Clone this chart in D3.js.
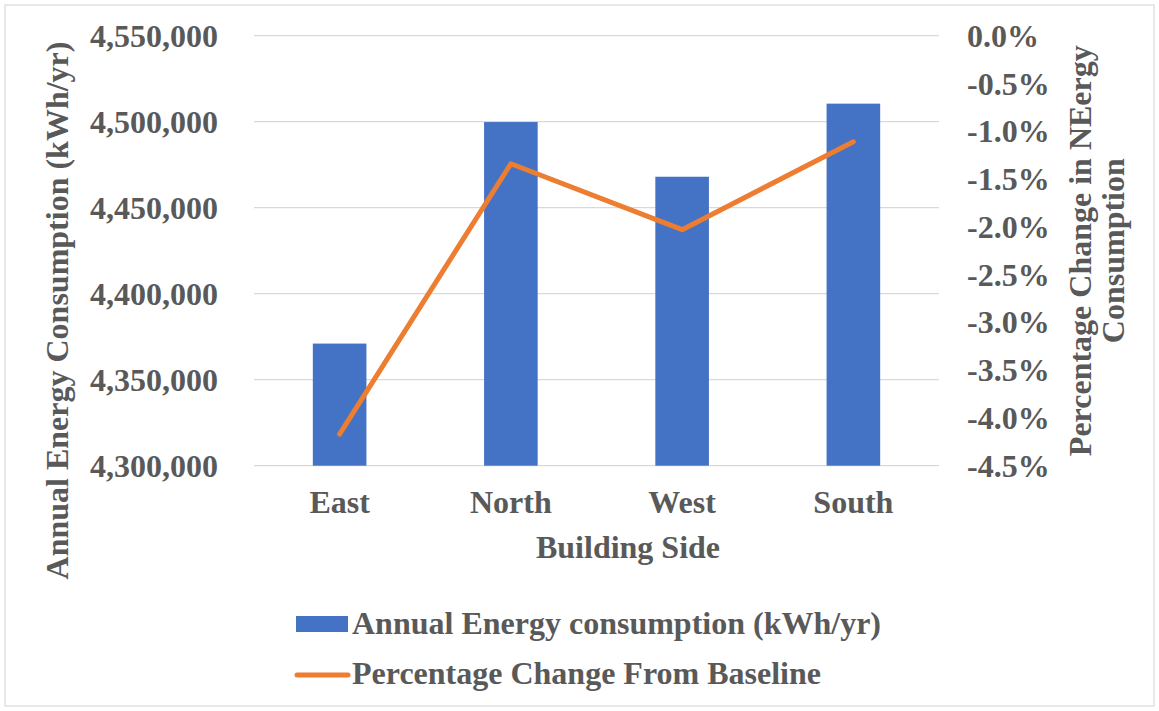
<!DOCTYPE html>
<html>
<head>
<meta charset="utf-8">
<script src="https://cdn.jsdelivr.net/npm/d3@7"></script>
<style>
  html, body { margin: 0; padding: 0; background: #fff; }
  svg text { font-family: "Liberation Serif", "Times New Roman", serif; font-weight: bold; fill: #595959; }
</style>
</head>
<body>
<svg id="chart" width="1159" height="711"></svg>
<script>
// Building side categories
const sides = ["East", "North", "West", "South"];
// Annual energy consumption per side (kWh/yr)
const energy = [4371000, 4499800, 4468000, 4510500];
// Percentage change from baseline per side
const pctChange = [-4.17, -1.34, -2.03, -1.11];
// Axis tick values
const leftTicks = [4300000, 4350000, 4400000, 4450000, 4500000, 4550000];
const rightTicks = [0, -0.5, -1.0, -1.5, -2.0, -2.5, -3.0, -3.5, -4.0, -4.5];

const svg = d3.select("#chart");
const W = 1159, H = 711;
const plot = { left: 254, right: 939, top: 35.7, bottom: 465.7 };
const FS = 32;

const blue = "#4472C4", orange = "#ED7D31", grid = "#D9D9D9";

// Outer chart border
svg.append("rect")
  .attr("x", 5).attr("y", 5).attr("width", W - 10).attr("height", H - 10)
  .attr("fill", "#fff").attr("stroke", grid).attr("stroke-width", 1.2);

const x = d3.scaleBand().domain(sides).range([plot.left, plot.right]).paddingInner(0.687).paddingOuter(0.3435);
const yL = d3.scaleLinear().domain([4300000, 4550000]).range([plot.bottom, plot.top]);
const yR = d3.scaleLinear().domain([-4.5, 0]).range([plot.bottom, plot.top]);

// Gridlines
svg.append("g").selectAll("line").data(leftTicks).join("line")
  .attr("x1", plot.left).attr("x2", plot.right)
  .attr("y1", d => yL(d)).attr("y2", d => yL(d))
  .attr("stroke", grid).attr("stroke-width", 1.3);

// Left axis
const leftAxis = svg.append("g")
  .attr("transform", `translate(${plot.left},0)`)
  .call(d3.axisLeft(yL).tickValues(leftTicks).tickFormat(d3.format(",")).tickSize(0).tickPadding(36));
leftAxis.select(".domain").remove();
leftAxis.selectAll("text").attr("font-size", FS).attr("dy", "0.33em");

// Right axis
const rightAxis = svg.append("g")
  .attr("transform", `translate(${plot.right},0)`)
  .call(d3.axisRight(yR).tickValues(rightTicks).tickSize(0).tickPadding(28));
rightAxis.select(".domain").remove();
rightAxis.selectAll("text").attr("font-size", FS).attr("dy", "0.33em")
  .text(d => (d === 0 ? "0.0" : "-" + d3.format(".1f")(Math.abs(d))) + "%");

// Bars
svg.append("g").selectAll("rect").data(sides).join("rect")
  .attr("x", d => x(d))
  .attr("width", x.bandwidth())
  .attr("y", (d, i) => yL(energy[i]))
  .attr("height", (d, i) => plot.bottom - yL(energy[i]))
  .attr("fill", blue);

// Percentage change line
const line = d3.line()
  .x((d, i) => x(sides[i]) + x.bandwidth() / 2)
  .y(d => yR(d));
svg.append("path").datum(pctChange)
  .attr("d", line)
  .attr("fill", "none").attr("stroke", orange).attr("stroke-width", 5)
  .attr("stroke-linecap", "round").attr("stroke-linejoin", "round");

// Category labels
const xAxis = svg.append("g")
  .attr("transform", `translate(0,${plot.bottom})`)
  .call(d3.axisBottom(x).tickSize(0).tickPadding(25));
xAxis.select(".domain").remove();
xAxis.selectAll("text").attr("font-size", FS);

// Axis titles
svg.append("text").attr("x", 628).attr("y", 558).attr("text-anchor", "middle")
  .attr("font-size", FS).text("Building Side");

svg.append("text")
  .attr("transform", `translate(68,310.5) rotate(-90)`)
  .attr("text-anchor", "middle").attr("font-size", FS)
  .text("Annual Energy Consumption (kWh/yr)");

const rTitle = svg.append("text")
  .attr("transform", `translate(1091,${(plot.top + plot.bottom) / 2}) rotate(-90)`)
  .attr("text-anchor", "middle").attr("font-size", FS);
rTitle.append("tspan").attr("x", 0).attr("dy", 0).text("Percentage Change in NEergy");
rTitle.append("tspan").attr("x", 0).attr("dy", 33).text("Consumption");

// Legend
const legend = svg.append("g");
legend.append("rect").attr("x", 296).attr("y", 616).attr("width", 52).attr("height", 16).attr("fill", blue);
legend.append("text").attr("x", 352).attr("y", 634).attr("font-size", FS).text("Annual Energy consumption (kWh/yr)");
legend.append("line").attr("x1", 297).attr("x2", 348).attr("y1", 675).attr("y2", 675)
  .attr("stroke", orange).attr("stroke-width", 5).attr("stroke-linecap", "round");
legend.append("text").attr("x", 352).attr("y", 684).attr("font-size", FS).text("Percentage Change From Baseline");
</script>
</body>
</html>
